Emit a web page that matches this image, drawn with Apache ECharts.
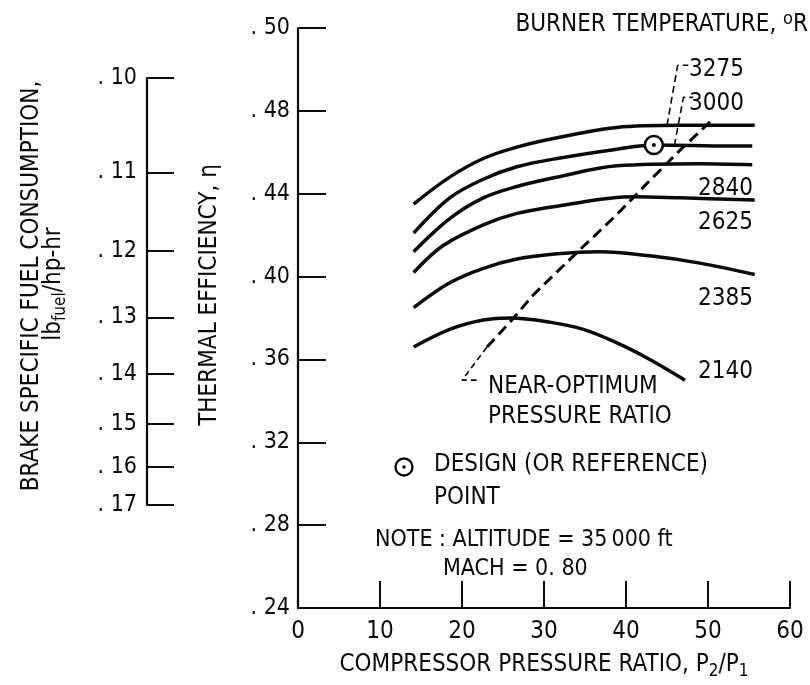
<!DOCTYPE html>
<html>
<head>
<meta charset="utf-8">
<script src="https://cdn.jsdelivr.net/npm/echarts@6/dist/echarts.min.js"></script>
<style>
  html, body { margin: 0; padding: 0; background: #ffffff; }
  #chart { width: 810px; height: 685px; }
</style>
</head>
<body>
<div id="chart"></div>
<script>
// ---- axes ----
const xTickValues = [0, 10, 20, 30, 40, 50, 60];
const etaTickValues = [0.24, 0.28, 0.32, 0.36, 0.40, 0.44, 0.48, 0.52];
const etaTickLabels = ['. 24', '. 28', '. 32', '. 36', '. 40', '. 44', '. 48', '. 50'];
// fuel-consumption scale, read against efficiency as  bsfc = BSFC_K / eta
const bsfcTicks = [0.10, 0.11, 0.12, 0.13, 0.14, 0.15, 0.16, 0.17];
const bsfcTickLabels = ['. 10', '. 11', '. 12', '. 13', '. 14', '. 15', '. 16', '. 17'];
const BSFC_K = 0.0496;

// ---- burner temperature curves: pressure ratio vs thermal efficiency ----
const ratio3275 = [14.1, 18.5, 22.6, 26.7, 31.6, 38.9, 46.6, 55.7];
const eff3275   = [0.435, 0.448, 0.457, 0.4625, 0.467, 0.472, 0.473, 0.473];
const ratio3000 = [14.1, 18.5, 22.6, 26.7, 31.6, 38.9, 43.4, 52.7, 55.4];
const eff3000   = [0.421, 0.438, 0.447, 0.453, 0.457, 0.4615, 0.4635, 0.463, 0.463];
const ratio2840 = [14.1, 18.5, 22.6, 26.7, 31.6, 38.9, 49.0, 55.4];
const eff2840   = [0.412, 0.428, 0.438, 0.4435, 0.448, 0.4535, 0.4545, 0.454];
const ratio2625 = [14.1, 17.7, 22.6, 26.7, 31.6, 40.9, 46.6, 55.7];
const eff2625   = [0.402, 0.415, 0.425, 0.4305, 0.434, 0.4385, 0.438, 0.437];
const ratio2385 = [14.1, 18.5, 22.6, 26.7, 31.6, 36.8, 42.9, 49.0, 55.7];
const eff2385   = [0.385, 0.397, 0.404, 0.4085, 0.411, 0.412, 0.410, 0.4065, 0.401];
const ratio2140 = [14.1, 18.5, 22.6, 25.9, 30.7, 34.8, 38.9, 42.9, 47.2];
const eff2140   = [0.366, 0.3745, 0.379, 0.380, 0.378, 0.3745, 0.368, 0.360, 0.350];

// near-optimum pressure ratio (dashed)
const optRatio = [23.05, 25.85, 28.66, 30.73, 34.39, 38.90, 42.56, 46.59, 50.61];
const optEff   = [0.366, 0.378, 0.391, 0.399, 0.413, 0.430, 0.445, 0.461, 0.476];
// its leader to the caption
const optLeaderRatio = [21.8, 20.0, 23.05];
const optLeaderEff   = [0.350, 0.350, 0.366];
// leaders from the 3275 and 3000 captions down to their curves
const lead3275Ratio = [45.0, 46.3, 47.6];
const lead3275Eff   = [0.473, 0.502, 0.502];
const lead3000Ratio = [45.9, 47.0, 48.2];
const lead3000Eff   = [0.4632, 0.4865, 0.4865];

// design (reference) point
const designRatio = 43.4;
const designEff = 0.4635;

// ---- layout ----
const FONT = '"DejaVu Sans Condensed", "Liberation Sans Narrow", "DejaVu Sans", sans-serif';
const INK = '#0a0a0a';
const W = 810, H = 685;
const GRID = { left: 298, top: 28, right: 20, bottom: 72 };
const etaMin = 0.24, etaMax = 0.52;
const plotH = H - GRID.top - GRID.bottom;
const etaToY = e => GRID.top + (etaMax - e) / (etaMax - etaMin) * plotH;

const bsfcEta = bsfcTicks.map(b => BSFC_K / b);
const bsfcEtaMax = Math.max(...bsfcEta), bsfcEtaMin = Math.min(...bsfcEta);
const bsfcTop = etaToY(bsfcEtaMax);
const bsfcHeight = etaToY(bsfcEtaMin) - bsfcTop;

const zip = (xs, ys) => xs.map((x, i) => [x, ys[i]]);
const labelFor = (vals, labels) => v => {
  const i = vals.findIndex(t => Math.abs(t - v) < 1e-6);
  return i >= 0 ? labels[i] : '';
};

function curve(name, xs, ys) {
  return {
    name, type: 'line', data: zip(xs, ys), smooth: 0.35, symbol: 'none',
    lineStyle: { color: INK, width: 3.5 }, silent: true, z: 3
  };
}
function dashed(name, xs, ys, width, dash) {
  return {
    name, type: 'line', data: zip(xs, ys), smooth: false, symbol: 'none',
    lineStyle: { color: INK, width, type: dash }, silent: true, z: 2
  };
}

const richText = {
  t: { fontFamily: FONT, fontSize: 24, fill: INK, color: INK, lineHeight: 30, verticalAlign: 'middle' },
  s: { fontFamily: FONT, fontSize: 17, fill: INK, color: INK, lineHeight: 14, verticalAlign: 'bottom' },
  o: { fontFamily: FONT, fontSize: 18, fill: INK, color: INK, lineHeight: 16, verticalAlign: 'top' }
};

function txt(x, y, text, opts) {
  opts = opts || {};
  return {
    type: 'text', x, y, rotation: opts.rotation || 0, silent: true,
    style: {
      text, fill: INK, fontFamily: FONT, fontSize: opts.size || 24,
      align: opts.align || 'left', verticalAlign: 'middle', rich: richText
    }
  };
}

const chart = echarts.init(document.getElementById('chart'), null, { renderer: 'canvas' });

chart.setOption({
  animation: false,
  backgroundColor: '#ffffff',
  textStyle: { fontFamily: FONT, color: INK },
  grid: [
    { left: GRID.left, top: GRID.top, right: GRID.right, bottom: GRID.bottom },
    { left: 147, width: 40, top: bsfcTop, height: bsfcHeight }
  ],
  xAxis: [
    {
      gridIndex: 0, type: 'value', min: 0, max: 60, interval: 10,
      axisLine: { show: true, onZero: false, lineStyle: { color: INK, width: 2.2 } },
      axisTick: { show: true, inside: true, length: 27, lineStyle: { color: INK, width: 2 },
                  customValues: xTickValues.slice(1) },
      axisLabel: { color: INK, fontFamily: FONT, fontSize: 24, margin: 12,
                   customValues: xTickValues, formatter: v => String(v) },
      splitLine: { show: false },
      name: '{t|COMPRESSOR PRESSURE RATIO, P}{s|2}{t|/P}{s|1}',
      nameLocation: 'middle', nameGap: 42,
      nameTextStyle: { rich: richText }
    },
    { gridIndex: 1, type: 'value', show: false, min: 0, max: 1 }
  ],
  yAxis: [
    {
      gridIndex: 0, type: 'value', min: etaMin, max: etaMax,
      axisLine: { show: true, onZero: false, lineStyle: { color: INK, width: 2.2 } },
      axisTick: { show: true, inside: true, length: 28, lineStyle: { color: INK, width: 2 },
                  customValues: etaTickValues.slice(1) },
      axisLabel: { color: INK, fontFamily: FONT, fontSize: 23, margin: 8,
                   customValues: etaTickValues,
                   formatter: labelFor(etaTickValues, etaTickLabels) },
      splitLine: { show: false }
    },
    {
      gridIndex: 1, type: 'value', min: bsfcEtaMin, max: bsfcEtaMax,
      axisLine: { show: true, onZero: false, lineStyle: { color: INK, width: 2.2 } },
      axisTick: { show: true, inside: true, length: 27, lineStyle: { color: INK, width: 2 },
                  customValues: bsfcEta },
      axisLabel: { color: INK, fontFamily: FONT, fontSize: 23, margin: 10,
                   customValues: bsfcEta,
                   formatter: labelFor(bsfcEta, bsfcTickLabels) },
      splitLine: { show: false }
    }
  ],
  series: [
    curve('3275', ratio3275, eff3275),
    curve('3000', ratio3000, eff3000),
    curve('2840', ratio2840, eff2840),
    curve('2625', ratio2625, eff2625),
    curve('2385', ratio2385, eff2385),
    curve('2140', ratio2140, eff2140),
    dashed('near-optimum', optRatio, optEff, 3, [11, 6]),
    dashed('near-optimum leader', optLeaderRatio, optLeaderEff, 1.6, [6, 4]),
    dashed('3275 leader', lead3275Ratio, lead3275Eff, 1.6, [7, 4]),
    dashed('3000 leader', lead3000Ratio, lead3000Eff, 1.6, [7, 4]),
    {
      name: 'design point', type: 'scatter', data: [[designRatio, designEff]],
      symbol: 'circle', symbolSize: 18, silent: true, z: 5,
      itemStyle: { color: '#ffffff', borderColor: INK, borderWidth: 2.6, opacity: 1 }
    },
    {
      name: 'design point centre', type: 'scatter', data: [[designRatio, designEff]],
      symbol: 'circle', symbolSize: 4, silent: true, z: 6,
      itemStyle: { color: INK, opacity: 1 }
    }
  ],
  graphic: [
    // axis titles on the left
    txt(32, 286, 'BRAKE SPECIFIC FUEL CONSUMPTION,', { align: 'center', rotation: Math.PI / 2 }),
    txt(54, 284, '{t|lb}{s|fuel}{t|/hp-hr}', { align: 'center', rotation: Math.PI / 2 }),
    txt(210, 295, 'THERMAL EFFICIENCY, \u03b7', { align: 'center', rotation: Math.PI / 2 }),
    // heading
    txt(808, 25, '{t|BURNER TEMPERATURE, }{o|o}{t|R}', { align: 'right' }),
    // curve captions
    txt(689, 70, '3275'),
    txt(689, 104, '3000'),
    txt(698, 189, '2840'),
    txt(698, 223, '2625'),
    txt(698, 299, '2385'),
    txt(698, 372, '2140'),
    txt(488, 387, 'NEAR-OPTIMUM'),
    txt(488, 417, 'PRESSURE RATIO'),
    // key and note
    { type: 'circle', shape: { cx: 404, cy: 467, r: 8.5 }, silent: true,
      style: { fill: '#ffffff', stroke: INK, lineWidth: 2.4 } },
    { type: 'circle', shape: { cx: 404, cy: 467, r: 1.8 }, silent: true,
      style: { fill: INK } },
    txt(434, 465, 'DESIGN (OR REFERENCE)'),
    txt(434, 498, 'POINT'),
    txt(375, 540, 'NOTE : ALTITUDE = 35\u2009000 ft', { size: 23 }),
    txt(443, 569, 'MACH = 0. 80', { size: 23 })
  ]
});
</script>
</body>
</html>
